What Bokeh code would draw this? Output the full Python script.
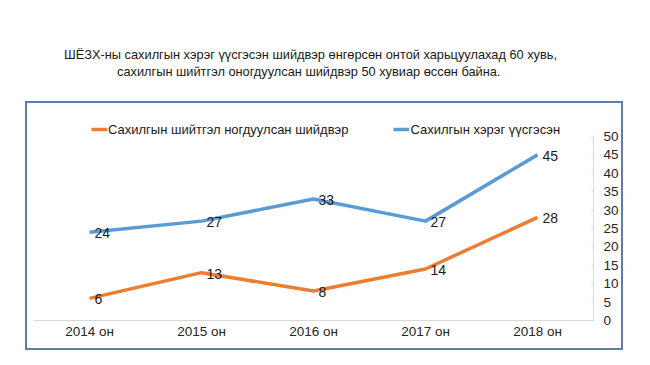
from bokeh.plotting import figure
from bokeh.layouts import column
from bokeh.models import (ColumnDataSource, Range1d, FactorRange, LinearAxis, FixedTicker,
                          Legend, LegendItem, Title)
from bokeh.embed import file_html
from bokeh.resources import INLINE
from bokeh.core.properties import value

years = ["2014 он", "2015 он", "2016 он", "2017 он", "2018 он"]
penalty = [6, 13, 8, 14, 28]
cases = [24, 27, 33, 27, 45]
series_names = ["Сахилгын шийтгэл ногдуулсан шийдвэр", "Сахилгын хэрэг үүсгэсэн"]
title_lines = ["ШЁЗХ-ны сахилгын хэрэг үүсгэсэн шийдвэр өнгөрсөн онтой харьцуулахад 60 хувь,",
               "сахилгын шийтгэл оногдуулсан  шийдвэр 50 хувиар өссөн байна."]
y_ticks = [0, 5, 10, 15, 20, 25, 30, 35, 40, 45, 50]

ORANGE = "#EC7D31"
BLUE = "#5B9BD5"
FONT = "Liberation Sans"

# ---- title figure ----
ft = figure(width=642, height=49, output_backend="svg", toolbar_location=None,
            x_range=Range1d(0, 1), y_range=Range1d(0, 1), margin=(44, 0, 0, 0),
            min_border_left=6, min_border_right=0, min_border_top=0, min_border_bottom=0)
ft.axis.visible = False
ft.grid.visible = False
ft.outline_line_color = None
ft.title.visible = False
ft.add_layout(Title(text=title_lines[1], align="center", text_font=FONT, text_font_size="12.8px",
                    text_font_style="normal", text_color="#1a1a1a", standoff=0, offset=0), "above")
ft.add_layout(Title(text=title_lines[0], align="center", text_font=FONT, text_font_size="12.8px",
                    text_font_style="normal", text_color="#1a1a1a", standoff=0, offset=0), "above")

# ---- chart figure ----
src = ColumnDataSource(dict(x=years, penalty=penalty, cases=cases,
                            pl=[str(v) for v in penalty], cl=[str(v) for v in cases]))

p = figure(width=598, height=249, x_range=FactorRange(*years), y_range=Range1d(0, 57.6),
           output_backend="svg", toolbar_location=None, y_axis_location=None,
           min_border_left=8, min_border_right=30, min_border_top=7, min_border_bottom=30,
           margin=(8, 0, 0, 25),
           styles={"outline": "2px solid #5E7DAD", "outline-offset": "-2px"})
p.outline_line_color = None
p.xgrid.visible = False
p.ygrid.visible = False
p.background_fill_color = "white"
p.border_fill_alpha = 0

xa = p.xaxis[0]
xa.axis_line_color = "#D9D9D9"
xa.major_tick_line_color = None
xa.major_tick_out = 0
xa.major_tick_in = 0
xa.minor_tick_line_color = None
xa.major_label_text_font = FONT
xa.major_label_text_font_size = "13.5px"
xa.major_label_text_color = "#262626"
xa.major_label_standoff = 3

ya = LinearAxis(ticker=FixedTicker(ticks=y_ticks), bounds=(0, 50))
ya.axis_line_color = "#D9D9D9"
ya.major_tick_line_color = "#D9D9D9"
ya.major_tick_in = 2
ya.major_tick_out = 0
ya.minor_tick_line_color = None
ya.major_label_text_font = FONT
ya.major_label_text_font_size = "13.5px"
ya.major_label_text_color = "#262626"
ya.major_label_standoff = 10
p.add_layout(ya, "right")

r_pen = p.line("x", "penalty", source=src, line_color=ORANGE, line_width=3.5)
r_cas = p.line("x", "cases", source=src, line_color=BLUE, line_width=3.5)

p.text("x", "penalty", text="pl", source=src, x_offset=5, y_offset=1,
       text_align="left", text_baseline="middle", text_font=value(FONT),
       text_font_size="14px", text_color="#1a1a1a")
p.text("x", "cases", text="cl", source=src, x_offset=5, y_offset=1,
       text_align="left", text_baseline="middle", text_font=value(FONT),
       text_font_size="14px", text_color="#1a1a1a")

legend = Legend(items=[LegendItem(label=series_names[0], renderers=[r_pen]),
                       LegendItem(label=series_names[1], renderers=[r_cas])],
                location=(58, 183), orientation="horizontal",
                padding=0, margin=0, spacing=45, glyph_width=16, glyph_height=16,
                label_standoff=1, border_line_color=None, background_fill_alpha=0,
                label_text_font=FONT, label_text_font_size="13px", label_text_color="#1a1a1a")
p.add_layout(legend, "center")

layout = column(ft, p, spacing=0)
open("out.html", "w").write(file_html(layout, INLINE))
